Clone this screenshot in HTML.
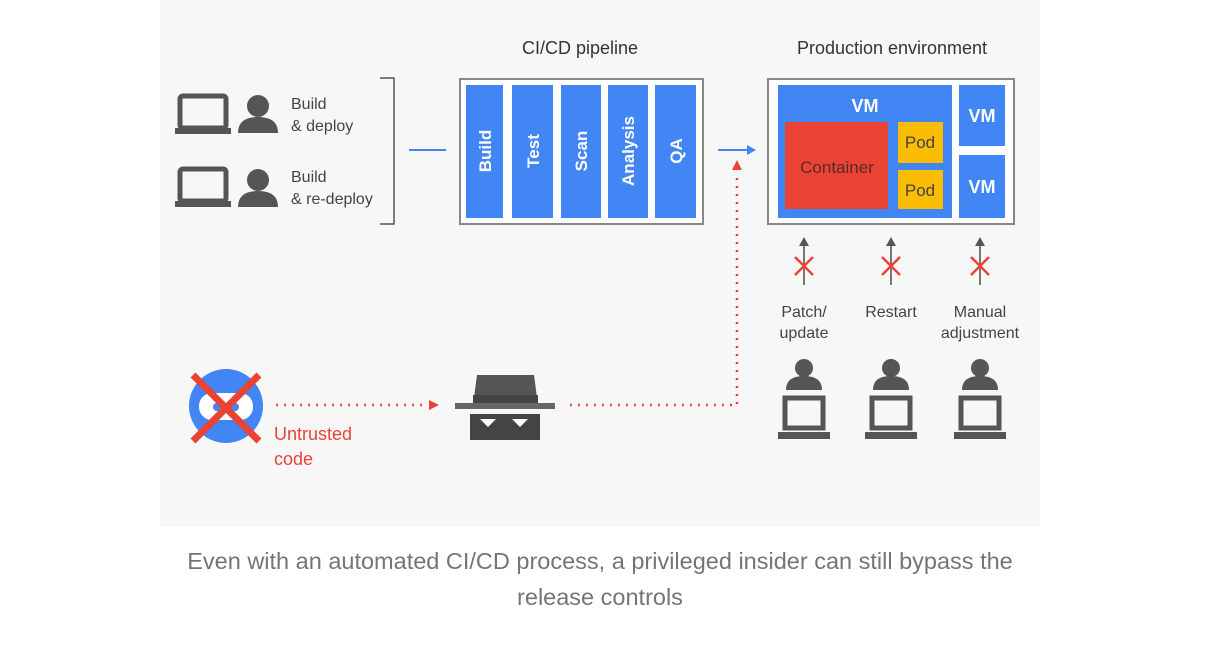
<!DOCTYPE html>
<html><head><meta charset="utf-8"><style>
body{margin:0;background:#fff;width:1222px;height:655px;overflow:hidden;font-family:"Liberation Sans",sans-serif}
.cap{position:absolute;left:100px;width:1000px;top:543px;text-align:center;color:#757575;font-size:23.5px;line-height:36px}
</style></head><body>
<svg width="1222" height="655" style="position:absolute;left:0;top:0" font-family="Liberation Sans, sans-serif">
<rect x="160" y="0" width="880" height="527" fill="#f7f7f7"/>
<text x="580" y="54" font-size="18" text-anchor="middle" fill="#333">CI/CD pipeline</text>
<text x="892" y="54" font-size="18" text-anchor="middle" fill="#333">Production environment</text>
<g fill="#555">
<rect x="180" y="96" width="46" height="32" rx="3" fill="none" stroke="#555" stroke-width="5"/>
<rect x="175" y="128" width="56" height="6"/>
<circle cx="258" cy="106" r="11"/><path d="M238 133 q0-16 20-16 q20 0 20 16z"/>
<rect x="180" y="169" width="46" height="32" rx="3" fill="none" stroke="#555" stroke-width="5"/>
<rect x="175" y="201" width="56" height="6"/>
<circle cx="258" cy="180" r="11"/><path d="M238 207 q0-16 20-16 q20 0 20 16z"/>
</g>
<g font-size="16" fill="#444">
<text x="291" y="109">Build</text><text x="291" y="131">&amp; deploy</text>
<text x="291" y="182">Build</text><text x="291" y="204">&amp; re-deploy</text>
</g>
<path d="M380 78 H394 V224 H380" fill="none" stroke="#555" stroke-width="1.5"/>
<line x1="409" y1="150" x2="446" y2="150" stroke="#4285f4" stroke-width="2"/>
<rect x="460" y="79" width="243" height="145" fill="#fff" stroke="#888" stroke-width="2"/>
<g fill="#4285f4">
<rect x="466" y="85" width="37" height="133"/><rect x="512" y="85" width="41" height="133"/>
<rect x="561" y="85" width="40" height="133"/><rect x="608" y="85" width="40" height="133"/>
<rect x="655" y="85" width="41" height="133"/></g>
<g font-size="17" font-weight="bold" fill="#fff" text-anchor="middle">
<text transform="translate(491,151) rotate(-90)">Build</text>
<text transform="translate(539,151) rotate(-90)">Test</text>
<text transform="translate(587,151) rotate(-90)">Scan</text>
<text transform="translate(634,151) rotate(-90)">Analysis</text>
<text transform="translate(682,151) rotate(-90)">QA</text></g>
<line x1="718" y1="150" x2="748" y2="150" stroke="#4285f4" stroke-width="2"/>
<path d="M756 150 l-9 -5 v10z" fill="#4285f4"/>
<rect x="768" y="79" width="246" height="145" fill="#fff" stroke="#888" stroke-width="2"/>
<rect x="778" y="85" width="174" height="133" fill="#4285f4"/>
<rect x="959" y="85" width="46" height="61" fill="#4285f4"/>
<rect x="959" y="155" width="46" height="63" fill="#4285f4"/>
<rect x="785" y="122" width="103" height="87" fill="#ea4335"/>
<rect x="898" y="122" width="45" height="41" fill="#fbbc04"/>
<rect x="898" y="170" width="45" height="39" fill="#fbbc04"/>
<g font-size="18" font-weight="bold" fill="#fff" text-anchor="middle">
<text x="865" y="112">VM</text><text x="982" y="122">VM</text><text x="982" y="193">VM</text></g>
<text x="837" y="173" font-size="17" fill="#5a2a22" text-anchor="middle">Container</text>
<g font-size="17" fill="#444" text-anchor="middle"><text x="920" y="148">Pod</text><text x="920" y="196">Pod</text></g>
<g stroke="#777" stroke-width="2">
<line x1="804" y1="244" x2="804" y2="285"/><line x1="891" y1="244" x2="891" y2="285"/><line x1="980" y1="244" x2="980" y2="285"/></g>
<g fill="#555"><path d="M804 237 l-5 9 h10z"/><path d="M891 237 l-5 9 h10z"/><path d="M980 237 l-5 9 h10z"/></g>
<g stroke="#ea4335" stroke-width="2.5">
<path d="M795 257 l18 18 M813 257 l-18 18"/><path d="M882 257 l18 18 M900 257 l-18 18"/><path d="M971 257 l18 18 M989 257 l-18 18"/></g>
<g font-size="16" fill="#444" text-anchor="middle">
<text x="804" y="317">Patch/</text><text x="804" y="338">update</text>
<text x="891" y="317">Restart</text>
<text x="980" y="317">Manual</text><text x="980" y="338">adjustment</text></g>
<g fill="#555">
<g transform="translate(804,0)"><circle cx="0" cy="368" r="9"/><path d="M-18 390 q0-14 18-14 q18 0 18 14z"/><rect x="-19" y="398" width="38" height="30" fill="none" stroke="#555" stroke-width="5"/><rect x="-26" y="432" width="52" height="7"/></g>
<g transform="translate(891,0)"><circle cx="0" cy="368" r="9"/><path d="M-18 390 q0-14 18-14 q18 0 18 14z"/><rect x="-19" y="398" width="38" height="30" fill="none" stroke="#555" stroke-width="5"/><rect x="-26" y="432" width="52" height="7"/></g>
<g transform="translate(980,0)"><circle cx="0" cy="368" r="9"/><path d="M-18 390 q0-14 18-14 q18 0 18 14z"/><rect x="-19" y="398" width="38" height="30" fill="none" stroke="#555" stroke-width="5"/><rect x="-26" y="432" width="52" height="7"/></g>
</g>
<circle cx="226" cy="406" r="37" fill="#4285f4"/>
<rect x="199" y="393" width="54" height="27" rx="13" fill="#fff"/>
<rect x="213" y="403" width="26" height="8" rx="4" fill="#4285f4"/>
<path d="M193 375 l66 66 M259 375 l-66 66" stroke="#ea4335" stroke-width="7"/>
<g font-size="18" fill="#ea4335"><text x="274" y="440">Untrusted</text><text x="274" y="465">code</text></g>
<line x1="276" y1="405" x2="428" y2="405" stroke="#ea4335" stroke-width="2.5" stroke-dasharray="2 6"/>
<path d="M439 405 l-10 -5 v10z" fill="#ea4335"/>
<path d="M477 375 h57 l4 30 h-65z" fill="#555"/>
<rect x="473" y="395" width="65" height="8" fill="#444"/>
<rect x="455" y="403" width="100" height="6" fill="#666"/>
<rect x="470" y="414" width="70" height="26" fill="#444"/>
<path d="M480 419 h16 l-8 8z M512 419 h16 l-8 8z" fill="#fff"/>
<path d="M570 405 H737 V172" fill="none" stroke="#ea4335" stroke-width="2.5" stroke-dasharray="2 6"/>
<path d="M737 160 l-5 10 h10z" fill="#ea4335"/>
</svg>
<div class="cap">Even with an automated CI/CD process, a privileged insider can still bypass the<br>release controls</div>
</body></html>
